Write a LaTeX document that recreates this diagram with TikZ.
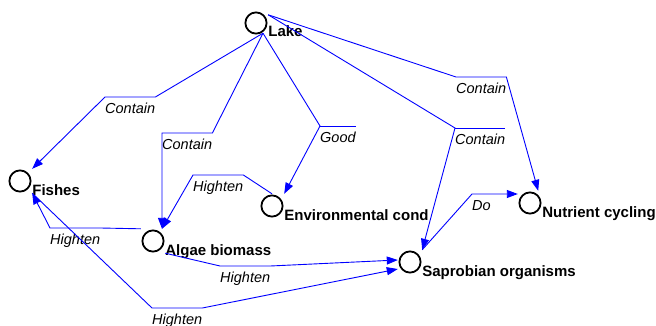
\documentclass[tikz,border=0pt]{standalone}
\usepackage{fontspec}
\setmainfont{Liberation Sans}
\usetikzlibrary{arrows.meta}

\begin{document}
\begin{tikzpicture}[x=1pt,y=-1pt,
      concept/.style={rectangle,minimum size=24pt,inner sep=0pt,label distance=3pt,
        path picture={\draw[line width=1.8pt] (path picture bounding box.center) circle (10.6pt);}},
      nname/.style={anchor=base west,inner sep=0pt,yshift=-14pt,
        font=\fontsize{15}{18}\selectfont\bfseries},
      link/.style={blue,line width=0.9pt},
      arrowlink/.style={link,-{Triangle[length=11pt,width=8pt]}},
      linkname/.style={anchor=north west,inner sep=0pt,text height=16pt,text depth=4pt,
        font=\fontsize{14.5}{17}\selectfont\itshape}]

      \useasboundingbox (0,0) rectangle (656,326);

      % concepts
      \node[concept,label={[nname]right:Lake}] (lake) at (256,23) {};
      \node[concept,label={[nname]right:Fishes}] (fishes) at (20,181) {};
      \node[concept,label={[nname]right:Algae biomass}] (algae) at (153,241) {};
      \node[concept,label={[nname]right:Environmental cond}] (env) at (272,206) {};
      \node[concept,label={[nname]right:Saprobian organisms}] (sapro) at (410,262) {};
      \node[concept,label={[nname]right:Nutrient cycling}] (nutrient) at (530,203) {};

      % link names
      \node[linkname] (c1) at (105,97) {Contain};
      \node[linkname] (c2) at (162,133) {Contain};
      \node[linkname] (good) at (320,126) {Good};
      \node[linkname] (c4) at (455,128) {Contain};
      \node[linkname] (c5) at (456,77) {Contain};
      \node[linkname] (h6) at (193,175) {Highten};
      \node[linkname] (h7) at (50,228) {Highten};
      \node[linkname] (h8) at (220,266) {Highten};
      \node[linkname] (h9) at (152,308) {Highten};
      \node[linkname] (do) at (472,194) {Do};

      % links
      \draw[arrowlink] ([xshift=7pt,yshift=2pt]lake.south) -- (c1.north east)
        -- (c1.north west) -- (fishes.north east);
      \draw[arrowlink] ([xshift=7pt,yshift=2pt]lake.south) -- (c2.north east)
        -- (c2.north west) -- (c2.north west |- algae.north);
      \draw[arrowlink] ([xshift=7pt,yshift=2pt]lake.south) -- (good.north west)
        -- (env.north east);
      \draw[link] (good.north west) -- (good.north east);
      \draw[arrowlink] ([yshift=-4pt]lake.north east) -- (c4.north west)
        -- (sapro.north east);
      \draw[link] (c4.north west) -- (c4.north east);
      \draw[arrowlink] ([yshift=-4pt]lake.north east) -- (c5.north west)
        -- (c5.north east) -- ([xshift=-4pt]nutrient.north east);
      \draw[arrowlink] (env.north) -- (h6.north east) -- (h6.north west)
        -- (c2.north west |- algae.north);
      \draw[arrowlink] (algae.north west) -- (h7.north east) -- (h7.north west)
        -- (fishes.south east);
      \draw[arrowlink] (algae.south east) -- (h8.north west) -- (h8.north east)
        -- ([yshift=2pt]sapro.west);
      \draw[arrowlink] (fishes.south east) -- (h9.north west) -- (h9.north east)
        -- ([yshift=-7pt]sapro.west);
      \draw[arrowlink] (sapro.north east) -- (do.north west)
        -- (do.north west -| nutrient.west);
    \end{tikzpicture}
\end{document}
